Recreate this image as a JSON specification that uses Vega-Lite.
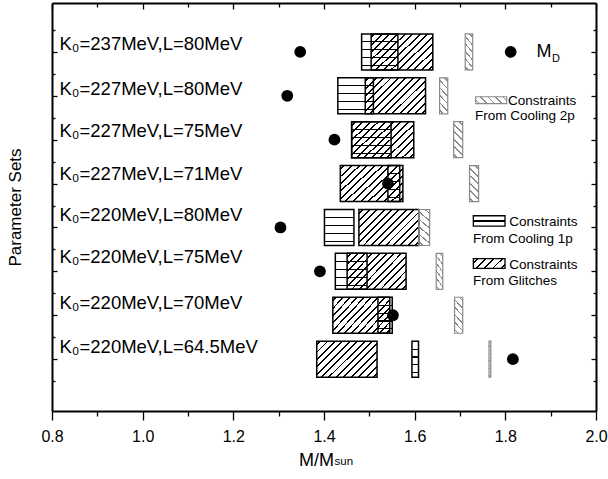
{
  "$schema": "https://vega.github.io/schema/vega-lite/v6.json",
  "width": 544,
  "height": 408,
  "autosize": "none",
  "padding": {"left": 52, "top": 3, "right": 12, "bottom": 68},
  "background": "white",
  "config": {
    "font": "Liberation Sans",
    "view": {"stroke": null},
    "axis": {"domainColor": "black", "domainWidth": 2, "tickColor": "black", "tickWidth": 1.3, "labelColor": "black", "titleColor": "black", "grid": false, "titleFontWeight": "normal"}
  },
  "datasets": {
    "rows": [
      {"set": "K₀=237MeV,L=80MeV", "row": 1, "ly": 0.967, "c1lo": 1.483, "c1hi": 1.563, "glo": 1.504, "ghi": 1.640, "c2lo": 1.7115, "c2hi": 1.728, "md": 1.3475},
      {"set": "K₀=227MeV,L=80MeV", "row": 2, "ly": 1.989, "c1lo": 1.4305, "c1hi": 1.509, "glo": 1.491, "ghi": 1.624, "c2lo": 1.655, "c2hi": 1.673, "md": 1.319},
      {"set": "K₀=227MeV,L=75MeV", "row": 3, "ly": 2.929, "c1lo": 1.461, "c1hi": 1.548, "glo": 1.461, "ghi": 1.598, "c2lo": 1.686, "c2hi": 1.706, "md": 1.423},
      {"set": "K₀=227MeV,L=71MeV", "row": 4, "ly": 3.929, "c1lo": 1.541, "c1hi": 1.567, "glo": 1.436, "ghi": 1.574, "c2lo": 1.721, "c2hi": 1.741, "md": 1.541},
      {"set": "K₀=220MeV,L=80MeV", "row": 5, "ly": 4.856, "c1lo": 1.401, "c1hi": 1.466, "glo": 1.477, "ghi": 1.609, "c2lo": 1.609, "c2hi": 1.633, "md": 1.304},
      {"set": "K₀=220MeV,L=75MeV", "row": 6, "ly": 5.818, "c1lo": 1.425, "c1hi": 1.495, "glo": 1.451, "ghi": 1.581, "c2lo": 1.6475, "c2hi": 1.662, "md": 1.391},
      {"set": "K₀=220MeV,L=70MeV", "row": 7, "ly": 6.856, "c1lo": 1.519, "c1hi": 1.5505, "glo": 1.4195, "ghi": 1.545, "c2lo": 1.688, "c2hi": 1.706, "md": 1.552},
      {"set": "K₀=220MeV,L=64.5MeV", "row": 8, "ly": 7.856, "c1lo": 1.594, "c1hi": 1.6085, "glo": 1.384, "ghi": 1.517, "c2lo": 1.764, "c2hi": 1.768, "md": 1.8166}
    ]
  },
  "layer": [
    {
      "data": {"name": "rows"},
      "mark": {"type": "bar", "orient": "horizontal", "size": 36, "stroke": "black", "strokeWidth": 1.5,
        "fill": {"gradient": "linear", "x1": 0, "y1": 0, "x2": 1.176, "y2": 0.706, "stops": [
          {"offset": 0, "color": "rgba(0,0,0,0)"},
          {"offset": 0.0285, "color": "rgba(0,0,0,0)"}, {"offset": 0.0285, "color": "#000"}, {"offset": 0.0485, "color": "#000"}, {"offset": 0.0485, "color": "rgba(0,0,0,0)"},
          {"offset": 0.1054, "color": "rgba(0,0,0,0)"}, {"offset": 0.1054, "color": "#000"}, {"offset": 0.1254, "color": "#000"}, {"offset": 0.1254, "color": "rgba(0,0,0,0)"},
          {"offset": 0.1823, "color": "rgba(0,0,0,0)"}, {"offset": 0.1823, "color": "#000"}, {"offset": 0.2023, "color": "#000"}, {"offset": 0.2023, "color": "rgba(0,0,0,0)"},
          {"offset": 0.2592, "color": "rgba(0,0,0,0)"}, {"offset": 0.2592, "color": "#000"}, {"offset": 0.2792, "color": "#000"}, {"offset": 0.2792, "color": "rgba(0,0,0,0)"},
          {"offset": 0.3362, "color": "rgba(0,0,0,0)"}, {"offset": 0.3362, "color": "#000"}, {"offset": 0.3562, "color": "#000"}, {"offset": 0.3562, "color": "rgba(0,0,0,0)"},
          {"offset": 0.4131, "color": "rgba(0,0,0,0)"}, {"offset": 0.4131, "color": "#000"}, {"offset": 0.4331, "color": "#000"}, {"offset": 0.4331, "color": "rgba(0,0,0,0)"},
          {"offset": 0.49, "color": "rgba(0,0,0,0)"}, {"offset": 0.49, "color": "#000"}, {"offset": 0.51, "color": "#000"}, {"offset": 0.51, "color": "rgba(0,0,0,0)"},
          {"offset": 0.5669, "color": "rgba(0,0,0,0)"}, {"offset": 0.5669, "color": "#000"}, {"offset": 0.5869, "color": "#000"}, {"offset": 0.5869, "color": "rgba(0,0,0,0)"},
          {"offset": 0.6438, "color": "rgba(0,0,0,0)"}, {"offset": 0.6438, "color": "#000"}, {"offset": 0.6638, "color": "#000"}, {"offset": 0.6638, "color": "rgba(0,0,0,0)"},
          {"offset": 0.7208, "color": "rgba(0,0,0,0)"}, {"offset": 0.7208, "color": "#000"}, {"offset": 0.7408, "color": "#000"}, {"offset": 0.7408, "color": "rgba(0,0,0,0)"},
          {"offset": 0.7977, "color": "rgba(0,0,0,0)"}, {"offset": 0.7977, "color": "#000"}, {"offset": 0.8177, "color": "#000"}, {"offset": 0.8177, "color": "rgba(0,0,0,0)"},
          {"offset": 0.8746, "color": "rgba(0,0,0,0)"}, {"offset": 0.8746, "color": "#000"}, {"offset": 0.8946, "color": "#000"}, {"offset": 0.8946, "color": "rgba(0,0,0,0)"},
          {"offset": 0.9515, "color": "rgba(0,0,0,0)"}, {"offset": 0.9515, "color": "#000"}, {"offset": 0.9715, "color": "#000"}, {"offset": 0.9715, "color": "rgba(0,0,0,0)"},
          {"offset": 1, "color": "rgba(0,0,0,0)"}
        ]}
      },
      "encoding": {
        "x": {"field": "glo", "type": "quantitative", "scale": {"domain": [0.8, 2.0], "nice": false, "zero": false},
          "axis": {"orient": "bottom", "values": [0.8, 0.9, 1.0, 1.1, 1.2, 1.3, 1.4, 1.5, 1.6, 1.7, 1.8, 1.9, 2.0],
            "labelExpr": "round(datum.value*10) % 2 == 0 ? format(datum.value, '.1f') : ''",
            "tickSize": {"condition": {"test": "round(datum.value*10) % 2 == 0", "value": 9}, "value": 5},
            "labelFontSize": 16, "labelPadding": 8, "labelFlush": false, "labelOverlap": false, "labelBound": false,
            "title": "M/M", "titleFontSize": 18, "titlePadding": 7, "titleX": 264}},
        "x2": {"field": "ghi"},
        "y": {"field": "row", "type": "quantitative", "scale": {"domain": [0, 9.067], "reverse": true, "nice": false, "zero": false},
          "axis": {"orient": "left", "values": [0.5, 1, 1.5, 2, 2.5, 3, 3.5, 4, 4.5, 5, 5.5, 6, 6.5, 7, 7.5, 8, 8.5], "labels": false,
            "tickSize": {"condition": {"test": "datum.value % 1 == 0", "value": -5}, "value": -3},
            "title": "Parameter Sets", "titleFontSize": 17, "titlePadding": 27}}
      }
    },
    {
      "data": {"name": "rows"},
      "mark": {"type": "bar", "orient": "horizontal", "size": 36, "stroke": "black", "strokeWidth": 1.5,
        "fill": {"gradient": "linear", "x1": 0, "y1": 0, "x2": 0, "y2": 1, "stops": [
          {"offset": 0, "color": "rgba(0,0,0,0)"},
          {"offset": 0.205, "color": "rgba(0,0,0,0)"}, {"offset": 0.205, "color": "#000"}, {"offset": 0.235, "color": "#000"}, {"offset": 0.235, "color": "rgba(0,0,0,0)"},
          {"offset": 0.425, "color": "rgba(0,0,0,0)"}, {"offset": 0.425, "color": "#000"}, {"offset": 0.455, "color": "#000"}, {"offset": 0.455, "color": "rgba(0,0,0,0)"},
          {"offset": 0.645, "color": "rgba(0,0,0,0)"}, {"offset": 0.645, "color": "#000"}, {"offset": 0.675, "color": "#000"}, {"offset": 0.675, "color": "rgba(0,0,0,0)"},
          {"offset": 0.865, "color": "rgba(0,0,0,0)"}, {"offset": 0.865, "color": "#000"}, {"offset": 0.895, "color": "#000"}, {"offset": 0.895, "color": "rgba(0,0,0,0)"},
          {"offset": 1, "color": "rgba(0,0,0,0)"}
        ]}
      },
      "encoding": {
        "x": {"field": "c1lo", "type": "quantitative", "scale": {"domain": [0.8, 2.0], "nice": false, "zero": false}, "axis": null},
        "x2": {"field": "c1hi"},
        "y": {"field": "row", "type": "quantitative", "scale": {"domain": [0, 9.067], "reverse": true, "nice": false, "zero": false}, "axis": null}
      }
    },
    {
      "data": {"name": "rows"},
      "mark": {"type": "bar", "orient": "horizontal", "size": 36, "stroke": "#8a8a8a", "strokeWidth": 1.2,
        "fill": {"gradient": "linear", "x1": 0, "y1": 1, "x2": 0.294, "y2": -0.176, "stops": [
          {"offset": 0, "color": "rgba(0,0,0,0)"},
          {"offset": 0.0653, "color": "rgba(0,0,0,0)"}, {"offset": 0.0653, "color": "#8a8a8a"}, {"offset": 0.1013, "color": "#8a8a8a"}, {"offset": 0.1013, "color": "rgba(0,0,0,0)"},
          {"offset": 0.232, "color": "rgba(0,0,0,0)"}, {"offset": 0.232, "color": "#8a8a8a"}, {"offset": 0.268, "color": "#8a8a8a"}, {"offset": 0.268, "color": "rgba(0,0,0,0)"},
          {"offset": 0.3987, "color": "rgba(0,0,0,0)"}, {"offset": 0.3987, "color": "#8a8a8a"}, {"offset": 0.4347, "color": "#8a8a8a"}, {"offset": 0.4347, "color": "rgba(0,0,0,0)"},
          {"offset": 0.5653, "color": "rgba(0,0,0,0)"}, {"offset": 0.5653, "color": "#8a8a8a"}, {"offset": 0.6013, "color": "#8a8a8a"}, {"offset": 0.6013, "color": "rgba(0,0,0,0)"},
          {"offset": 0.732, "color": "rgba(0,0,0,0)"}, {"offset": 0.732, "color": "#8a8a8a"}, {"offset": 0.768, "color": "#8a8a8a"}, {"offset": 0.768, "color": "rgba(0,0,0,0)"},
          {"offset": 0.8987, "color": "rgba(0,0,0,0)"}, {"offset": 0.8987, "color": "#8a8a8a"}, {"offset": 0.9347, "color": "#8a8a8a"}, {"offset": 0.9347, "color": "rgba(0,0,0,0)"},
          {"offset": 1, "color": "rgba(0,0,0,0)"}
        ]}
      },
      "encoding": {
        "x": {"field": "c2lo", "type": "quantitative", "scale": {"domain": [0.8, 2.0], "nice": false, "zero": false}, "axis": null},
        "x2": {"field": "c2hi"},
        "y": {"field": "row", "type": "quantitative", "scale": {"domain": [0, 9.067], "reverse": true, "nice": false, "zero": false}, "axis": null}
      }
    },
    {
      "data": {"name": "rows"},
      "mark": {"type": "circle", "size": 139, "color": "black", "opacity": 1},
      "encoding": {
        "x": {"field": "md", "type": "quantitative", "scale": {"domain": [0.8, 2.0], "nice": false, "zero": false}, "axis": null},
        "y": {"field": "row", "type": "quantitative", "scale": {"domain": [0, 9.067], "reverse": true, "nice": false, "zero": false}, "axis": null}
      }
    },
    {
      "data": {"name": "rows"},
      "mark": {"type": "text", "align": "left", "baseline": "alphabetic", "fontSize": 18.5, "color": "black"},
      "encoding": {
        "x": {"datum": 0.8165, "type": "quantitative", "scale": {"domain": [0.8, 2.0], "nice": false, "zero": false}, "axis": null},
        "y": {"field": "ly", "type": "quantitative", "scale": {"domain": [0, 9.067], "reverse": true, "nice": false, "zero": false}, "axis": null},
        "text": {"field": "set"}
      }
    },
    {
      "data": {"name": "rows"},
      "mark": {"type": "point", "opacity": 0},
      "encoding": {
        "x": {"field": "md", "type": "quantitative", "scale": {"domain": [0.8, 2.0], "nice": false, "zero": false},
          "axis": {"orient": "top", "values": [0.8, 0.9, 1.0, 1.1, 1.2, 1.3, 1.4, 1.5, 1.6, 1.7, 1.8, 1.9, 2.0], "labels": false, "title": null,
            "tickSize": {"condition": {"test": "round(datum.value*10) % 2 == 0", "value": -6}, "value": -4}}},
        "y": {"field": "row", "type": "quantitative", "scale": {"domain": [0, 9.067], "reverse": true, "nice": false, "zero": false},
          "axis": {"orient": "right", "values": [0.5, 1, 1.5, 2, 2.5, 3, 3.5, 4, 4.5, 5, 5.5, 6, 6.5, 7, 7.5, 8, 8.5], "labels": false, "title": null,
            "tickSize": {"condition": {"test": "datum.value % 1 == 0", "value": -5}, "value": -3}}}
      }
    },
    {
      "data": {"values": [{}]},
      "mark": {"type": "circle", "size": 139, "color": "black", "opacity": 1},
      "encoding": {
        "x": {"datum": 1.8118, "type": "quantitative", "scale": {"domain": [0.8, 2.0], "nice": false, "zero": false}, "axis": null},
        "y": {"datum": 1, "type": "quantitative", "scale": {"domain": [0, 9.067], "reverse": true, "nice": false, "zero": false}, "axis": null}
      }
    },
    {
      "data": {"values": [{}]},
      "mark": {"type": "text", "align": "left", "baseline": "alphabetic", "fontSize": 18, "color": "black", "text": "M"},
      "encoding": {
        "x": {"datum": 1.8685, "type": "quantitative", "scale": {"domain": [0.8, 2.0], "nice": false, "zero": false}, "axis": null},
        "y": {"datum": 1.111, "type": "quantitative", "scale": {"domain": [0, 9.067], "reverse": true, "nice": false, "zero": false}, "axis": null}
      }
    },
    {
      "data": {"values": [{}]},
      "mark": {"type": "text", "align": "left", "baseline": "alphabetic", "fontSize": 11, "color": "black", "text": "D", "dx": 15.5},
      "encoding": {
        "x": {"datum": 1.8685, "type": "quantitative", "scale": {"domain": [0.8, 2.0], "nice": false, "zero": false}, "axis": null},
        "y": {"datum": 1.24, "type": "quantitative", "scale": {"domain": [0, 9.067], "reverse": true, "nice": false, "zero": false}, "axis": null}
      }
    },
    {
      "data": {"values": [{}]},
      "mark": {"type": "text", "align": "left", "baseline": "alphabetic", "fontSize": 11.5, "color": "black", "text": "sun"},
      "encoding": {
        "x": {"datum": 1.4232, "type": "quantitative", "scale": {"domain": [0.8, 2.0], "nice": false, "zero": false}, "axis": null},
        "y": {"datum": 10.42, "type": "quantitative", "scale": {"domain": [0, 9.067], "reverse": true, "nice": false, "zero": false}, "axis": null}
      }
    },
    {
      "data": {"values": [{}]},
      "mark": {"type": "rect", "stroke": "#8a8a8a", "strokeWidth": 1.2,
        "fill": {"gradient": "linear", "x1": 0, "y1": 1, "x2": 1.166, "y2": 0.737, "stops": [
          {"offset": 0, "color": "rgba(0,0,0,0)"},
          {"offset": 0.08, "color": "rgba(0,0,0,0)"}, {"offset": 0.08, "color": "#8a8a8a"}, {"offset": 0.12, "color": "#8a8a8a"}, {"offset": 0.12, "color": "rgba(0,0,0,0)"},
          {"offset": 0.28, "color": "rgba(0,0,0,0)"}, {"offset": 0.28, "color": "#8a8a8a"}, {"offset": 0.32, "color": "#8a8a8a"}, {"offset": 0.32, "color": "rgba(0,0,0,0)"},
          {"offset": 0.48, "color": "rgba(0,0,0,0)"}, {"offset": 0.48, "color": "#8a8a8a"}, {"offset": 0.52, "color": "#8a8a8a"}, {"offset": 0.52, "color": "rgba(0,0,0,0)"},
          {"offset": 0.68, "color": "rgba(0,0,0,0)"}, {"offset": 0.68, "color": "#8a8a8a"}, {"offset": 0.72, "color": "#8a8a8a"}, {"offset": 0.72, "color": "rgba(0,0,0,0)"},
          {"offset": 0.88, "color": "rgba(0,0,0,0)"}, {"offset": 0.88, "color": "#8a8a8a"}, {"offset": 0.92, "color": "#8a8a8a"}, {"offset": 0.92, "color": "rgba(0,0,0,0)"},
          {"offset": 1, "color": "rgba(0,0,0,0)"}
        ]}
      },
      "encoding": {
        "x": {"datum": 1.7346, "type": "quantitative", "scale": {"domain": [0.8, 2.0], "nice": false, "zero": false}, "axis": null},
        "x2": {"datum": 1.803},
        "y": {"datum": 2.022, "type": "quantitative", "scale": {"domain": [0, 9.067], "reverse": true, "nice": false, "zero": false}, "axis": null},
        "y2": {"datum": 2.178}
      }
    },
    {
      "data": {"values": [{}]},
      "mark": {"type": "rect", "stroke": "black", "strokeWidth": 1.3,
        "fill": {"gradient": "linear", "x1": 0, "y1": 0, "x2": 0, "y2": 1, "stops": [
          {"offset": 0, "color": "rgba(0,0,0,0)"},
          {"offset": 0.44, "color": "rgba(0,0,0,0)"}, {"offset": 0.44, "color": "#000"}, {"offset": 0.56, "color": "#000"}, {"offset": 0.56, "color": "rgba(0,0,0,0)"},
          {"offset": 1, "color": "rgba(0,0,0,0)"}
        ]}
      },
      "encoding": {
        "x": {"datum": 1.7294, "type": "quantitative", "scale": {"domain": [0.8, 2.0], "nice": false, "zero": false}, "axis": null},
        "x2": {"datum": 1.7993},
        "y": {"datum": 4.733, "type": "quantitative", "scale": {"domain": [0, 9.067], "reverse": true, "nice": false, "zero": false}, "axis": null},
        "y2": {"datum": 4.971}
      }
    },
    {
      "data": {"values": [{}]},
      "mark": {"type": "rect", "stroke": "black", "strokeWidth": 1.3,
        "fill": {"gradient": "linear", "x1": 0, "y1": 0, "x2": 1.196, "y2": 0.374, "stops": [
          {"offset": 0, "color": "rgba(0,0,0,0)"},
          {"offset": 0.078, "color": "rgba(0,0,0,0)"}, {"offset": 0.078, "color": "#000"}, {"offset": 0.122, "color": "#000"}, {"offset": 0.122, "color": "rgba(0,0,0,0)"},
          {"offset": 0.278, "color": "rgba(0,0,0,0)"}, {"offset": 0.278, "color": "#000"}, {"offset": 0.322, "color": "#000"}, {"offset": 0.322, "color": "rgba(0,0,0,0)"},
          {"offset": 0.478, "color": "rgba(0,0,0,0)"}, {"offset": 0.478, "color": "#000"}, {"offset": 0.522, "color": "#000"}, {"offset": 0.522, "color": "rgba(0,0,0,0)"},
          {"offset": 0.678, "color": "rgba(0,0,0,0)"}, {"offset": 0.678, "color": "#000"}, {"offset": 0.722, "color": "#000"}, {"offset": 0.722, "color": "rgba(0,0,0,0)"},
          {"offset": 0.878, "color": "rgba(0,0,0,0)"}, {"offset": 0.878, "color": "#000"}, {"offset": 0.922, "color": "#000"}, {"offset": 0.922, "color": "rgba(0,0,0,0)"},
          {"offset": 1, "color": "rgba(0,0,0,0)"}
        ]}
      },
      "encoding": {
        "x": {"datum": 1.7294, "type": "quantitative", "scale": {"domain": [0.8, 2.0], "nice": false, "zero": false}, "axis": null},
        "x2": {"datum": 1.7993},
        "y": {"datum": 5.711, "type": "quantitative", "scale": {"domain": [0, 9.067], "reverse": true, "nice": false, "zero": false}, "axis": null},
        "y2": {"datum": 5.933}
      }
    },
    {
      "data": {"values": [{}]},
      "mark": {"type": "text", "align": "left", "baseline": "alphabetic", "fontSize": 13.5, "color": "black", "text": "Constraints"},
      "encoding": {
        "x": {"datum": 1.8059, "type": "quantitative", "scale": {"domain": [0.8, 2.0], "nice": false, "zero": false}, "axis": null},
        "y": {"datum": 2.218, "type": "quantitative", "scale": {"domain": [0, 9.067], "reverse": true, "nice": false, "zero": false}, "axis": null}
      }
    },
    {
      "data": {"values": [{}]},
      "mark": {"type": "text", "align": "left", "baseline": "alphabetic", "fontSize": 13.5, "color": "black", "text": "From Cooling 2p"},
      "encoding": {
        "x": {"datum": 1.7331, "type": "quantitative", "scale": {"domain": [0.8, 2.0], "nice": false, "zero": false}, "axis": null},
        "y": {"datum": 2.551, "type": "quantitative", "scale": {"domain": [0, 9.067], "reverse": true, "nice": false, "zero": false}, "axis": null}
      }
    },
    {
      "data": {"values": [{}]},
      "mark": {"type": "text", "align": "left", "baseline": "alphabetic", "fontSize": 13.5, "color": "black", "text": "Constraints"},
      "encoding": {
        "x": {"datum": 1.8088, "type": "quantitative", "scale": {"domain": [0.8, 2.0], "nice": false, "zero": false}, "axis": null},
        "y": {"datum": 4.967, "type": "quantitative", "scale": {"domain": [0, 9.067], "reverse": true, "nice": false, "zero": false}, "axis": null}
      }
    },
    {
      "data": {"values": [{}]},
      "mark": {"type": "text", "align": "left", "baseline": "alphabetic", "fontSize": 13.5, "color": "black", "text": "From Cooling 1p"},
      "encoding": {
        "x": {"datum": 1.7287, "type": "quantitative", "scale": {"domain": [0.8, 2.0], "nice": false, "zero": false}, "axis": null},
        "y": {"datum": 5.358, "type": "quantitative", "scale": {"domain": [0, 9.067], "reverse": true, "nice": false, "zero": false}, "axis": null}
      }
    },
    {
      "data": {"values": [{}]},
      "mark": {"type": "text", "align": "left", "baseline": "alphabetic", "fontSize": 13.5, "color": "black", "text": "Constraints"},
      "encoding": {
        "x": {"datum": 1.8088, "type": "quantitative", "scale": {"domain": [0.8, 2.0], "nice": false, "zero": false}, "axis": null},
        "y": {"datum": 5.951, "type": "quantitative", "scale": {"domain": [0, 9.067], "reverse": true, "nice": false, "zero": false}, "axis": null}
      }
    },
    {
      "data": {"values": [{}]},
      "mark": {"type": "text", "align": "left", "baseline": "alphabetic", "fontSize": 13.5, "color": "black", "text": "From Glitches"},
      "encoding": {
        "x": {"datum": 1.7287, "type": "quantitative", "scale": {"domain": [0.8, 2.0], "nice": false, "zero": false}, "axis": null},
        "y": {"datum": 6.307, "type": "quantitative", "scale": {"domain": [0, 9.067], "reverse": true, "nice": false, "zero": false}, "axis": null}
      }
    }
  ],
  "resolve": {"axis": {"x": "independent", "y": "independent"}}
}
